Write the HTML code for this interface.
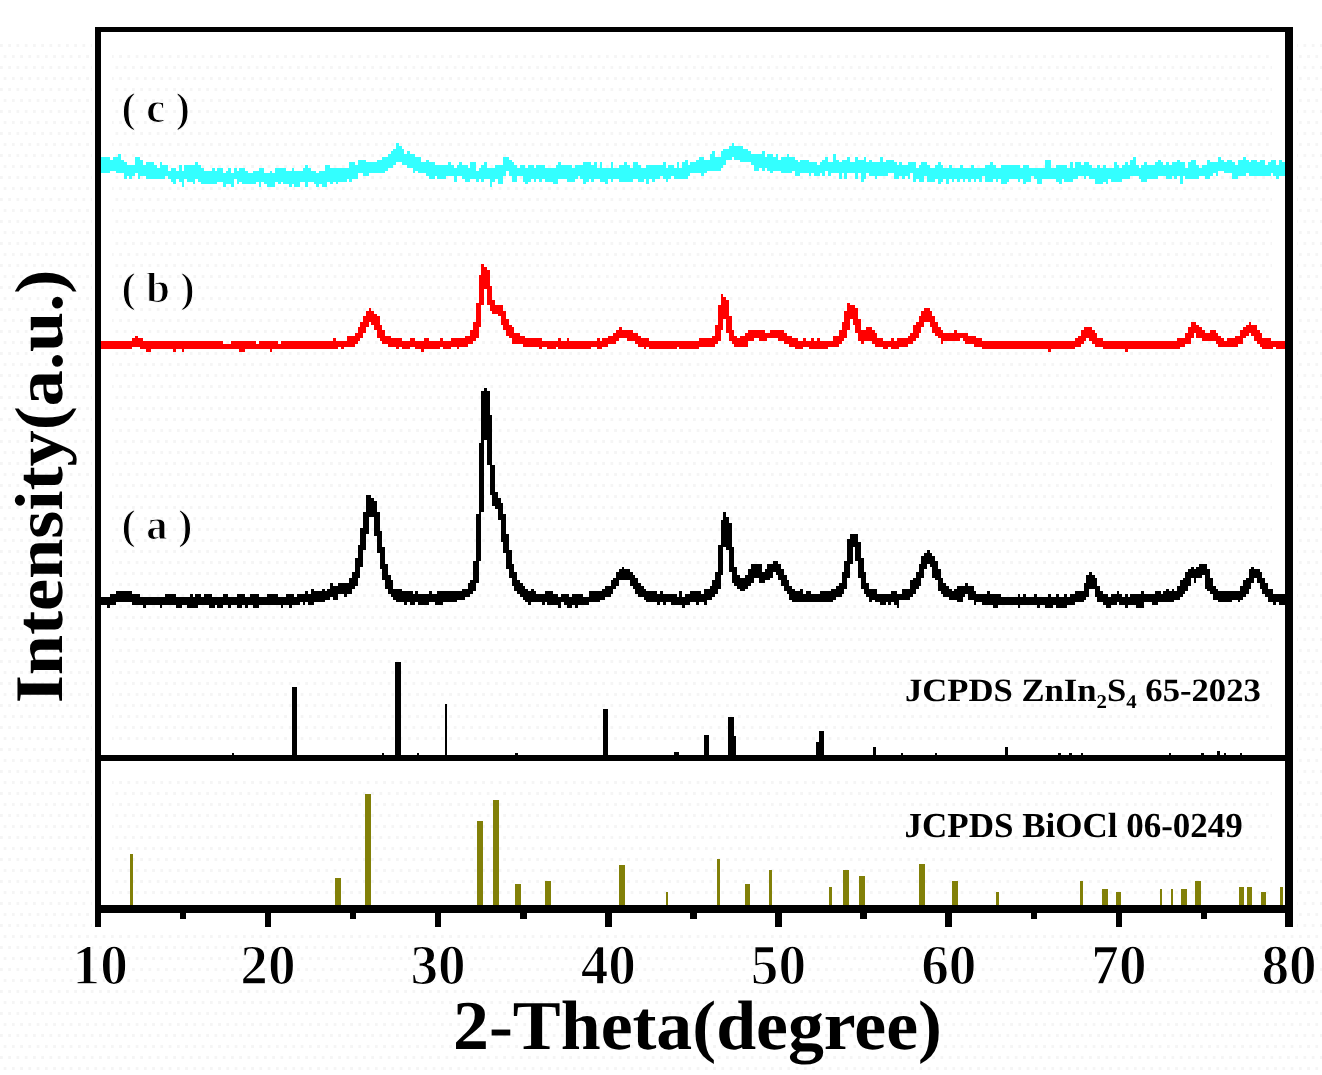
<!DOCTYPE html>
<html lang="en"><head><meta charset="utf-8"><title>XRD patterns</title>
<style>html,body{margin:0;padding:0;background:#fff}body{width:1322px;height:1075px;overflow:hidden}svg{display:block}</style></head>
<body>
<svg width="1322" height="1075" viewBox="0 0 1322 1075" shape-rendering="crispEdges">
<rect width="1322" height="1075" fill="#fff"/>
<defs><pattern id="dz" width="8.25" height="22" patternUnits="userSpaceOnUse"><rect x="0" y="0" width="2.75" height="2.75" fill="#f5f5f5"/><rect x="4.1" y="11" width="2.75" height="2.75" fill="#f5f5f5"/></pattern></defs>
<rect x="0" y="40" width="92" height="1035" fill="url(#dz)"/>
<rect x="112" y="50" width="1160" height="696" fill="url(#dz)"/>
<rect x="112" y="778" width="1160" height="118" fill="url(#dz)"/>
<rect x="92" y="930" width="1230" height="145" fill="url(#dz)"/>
<rect x="1297" y="40" width="25" height="890" fill="url(#dz)"/>
<path fill="#000" d="M231.50 752.50H234.20V756H231.50ZM291.60 687.00H297.20V756H291.60ZM381.50 752.50H384.20V756H381.50ZM395.20 662.30H400.80V756H395.20ZM416.70 752.50H419.40V756H416.70ZM444.50 703.60H447.20V756H444.50ZM515.30 752.50H518.00V756H515.30ZM602.80 708.90H608.30V756H602.80ZM673.90 752.00H679.30V756H673.90ZM704.00 734.60H709.40V756H704.00ZM728.00 717.00H733.60V756H728.00ZM733.60 736.00H736.40V756H733.60ZM816.00 741.70H818.80V756H816.00ZM818.80 731.00H824.20V756H818.80ZM873.00 747.00H875.70V756H873.00ZM900.50 752.50H903.20V756H900.50ZM934.50 753.00H937.20V756H934.50ZM1005.00 747.00H1007.80V756H1005.00ZM1058.20 753.00H1060.90V756H1058.20ZM1069.30 752.50H1072.00V756H1069.30ZM1080.50 753.00H1083.20V756H1080.50ZM1168.50 752.50H1171.20V756H1168.50ZM1201.00 752.50H1203.80V756H1201.00ZM1217.00 751.00H1219.80V756H1217.00ZM1223.50 753.00H1226.20V756H1223.50ZM1239.50 753.00H1242.20V756H1239.50Z"/>
<path fill="#828008" d="M130.30 853.70H133.10V906H130.30ZM335.00 878.00H340.60V906H335.00ZM365.00 794.00H370.70V906H365.00ZM477.00 821.00H482.70V906H477.00ZM493.30 799.50H498.90V906H493.30ZM515.00 883.80H520.60V906H515.00ZM545.00 881.00H550.70V906H545.00ZM619.00 864.60H624.50V906H619.00ZM665.50 892.00H668.20V906H665.50ZM717.30 859.30H720.00V906H717.30ZM744.60 883.80H750.20V906H744.60ZM769.00 870.00H771.70V906H769.00ZM829.30 886.60H832.00V906H829.30ZM843.00 870.00H848.50V906H843.00ZM859.00 875.50H864.60V906H859.00ZM919.00 864.30H924.80V906H919.00ZM952.00 881.00H957.50V906H952.00ZM996.00 892.00H998.70V906H996.00ZM1080.00 881.00H1082.70V906H1080.00ZM1102.40 889.00H1107.80V906H1102.40ZM1116.00 892.00H1121.40V906H1116.00ZM1159.50 889.00H1162.20V906H1159.50ZM1170.70 889.00H1173.40V906H1170.70ZM1181.00 889.00H1186.90V906H1181.00ZM1195.00 881.00H1200.80V906H1195.00ZM1239.00 886.60H1243.70V906H1239.00ZM1246.90 886.60H1251.70V906H1246.90ZM1260.50 892.00H1266.00V906H1260.50ZM1280.00 886.60H1282.80V906H1280.00Z"/>
<path fill="#33ffff" d="M100.50 156.75H101.75V173.25H100.50ZM101.75 156.75H104.50V173.25H101.75ZM104.50 156.75H107.25V173.25H104.50ZM107.25 156.75H110.00V173.25H107.25ZM110.00 159.50H112.75V170.50H110.00ZM112.75 156.75H115.50V170.50H112.75ZM115.50 156.75H118.25V173.25H115.50ZM118.25 154.00H121.00V173.25H118.25ZM121.00 159.50H123.75V173.25H121.00ZM123.75 162.25H126.50V178.75H123.75ZM126.50 165.00H129.25V176.00H126.50ZM129.25 165.00H132.00V178.75H129.25ZM132.00 165.00H134.75V176.00H132.00ZM134.75 156.75H137.50V173.25H134.75ZM137.50 156.75H140.25V178.75H137.50ZM140.25 159.50H143.00V176.00H140.25ZM143.00 165.00H145.75V176.00H143.00ZM145.75 162.25H148.50V178.75H145.75ZM148.50 162.25H151.25V178.75H148.50ZM151.25 162.25H154.00V178.75H151.25ZM154.00 165.00H156.75V178.75H154.00ZM156.75 167.75H159.50V178.75H156.75ZM159.50 162.25H162.25V178.75H159.50ZM162.25 165.00H165.00V178.75H162.25ZM165.00 165.00H167.75V176.00H165.00ZM167.75 170.50H170.50V178.75H167.75ZM170.50 167.75H173.25V181.50H170.50ZM173.25 167.75H176.00V184.25H173.25ZM176.00 170.50H178.75V178.75H176.00ZM178.75 165.00H181.50V181.50H178.75ZM181.50 170.50H184.25V187.00H181.50ZM184.25 165.00H187.00V178.75H184.25ZM187.00 165.00H189.75V181.50H187.00ZM189.75 165.00H192.50V181.50H189.75ZM192.50 165.00H195.25V184.25H192.50ZM195.25 162.25H198.00V178.75H195.25ZM198.00 165.00H200.75V181.50H198.00ZM200.75 167.75H203.50V184.25H200.75ZM203.50 170.50H206.25V184.25H203.50ZM206.25 170.50H209.00V184.25H206.25ZM209.00 170.50H211.75V184.25H209.00ZM211.75 167.75H214.50V184.25H211.75ZM214.50 170.50H217.25V184.25H214.50ZM217.25 167.75H220.00V181.50H217.25ZM220.00 167.75H222.75V181.50H220.00ZM222.75 173.25H225.50V187.00H222.75ZM225.50 170.50H228.25V184.25H225.50ZM228.25 167.75H231.00V184.25H228.25ZM231.00 173.25H233.75V187.00H231.00ZM233.75 167.75H236.50V178.75H233.75ZM236.50 170.50H239.25V184.25H236.50ZM239.25 167.75H242.00V181.50H239.25ZM242.00 167.75H244.75V184.25H242.00ZM244.75 170.50H247.50V184.25H244.75ZM247.50 173.25H250.25V184.25H247.50ZM250.25 173.25H253.00V184.25H250.25ZM253.00 170.50H255.75V184.25H253.00ZM255.75 170.50H258.50V181.50H255.75ZM258.50 167.75H261.25V187.00H258.50ZM261.25 167.75H264.00V181.50H261.25ZM264.00 173.25H266.75V184.25H264.00ZM266.75 173.25H269.50V187.00H266.75ZM269.50 170.50H272.25V187.00H269.50ZM272.25 173.25H275.00V187.00H272.25ZM275.00 167.75H277.75V181.50H275.00ZM277.75 167.75H280.50V184.25H277.75ZM280.50 167.75H283.25V181.50H280.50ZM283.25 167.75H286.00V184.25H283.25ZM286.00 170.50H288.75V184.25H286.00ZM288.75 170.50H291.50V187.00H288.75ZM291.50 167.75H294.25V184.25H291.50ZM294.25 170.50H297.00V187.00H294.25ZM297.00 170.50H299.75V187.00H297.00ZM299.75 170.50H302.50V181.50H299.75ZM302.50 167.75H305.25V181.50H302.50ZM305.25 165.00H308.00V187.00H305.25ZM308.00 167.75H310.75V181.50H308.00ZM310.75 170.50H313.50V181.50H310.75ZM313.50 170.50H316.25V184.25H313.50ZM316.25 173.25H319.00V187.00H316.25ZM319.00 170.50H321.75V184.25H319.00ZM321.75 170.50H324.50V187.00H321.75ZM324.50 165.00H327.25V187.00H324.50ZM327.25 165.00H330.00V181.50H327.25ZM330.00 167.75H332.75V184.25H330.00ZM332.75 167.75H335.50V181.50H332.75ZM335.50 167.75H338.25V184.25H335.50ZM338.25 167.75H341.00V181.50H338.25ZM341.00 167.75H343.75V181.50H341.00ZM343.75 167.75H346.50V181.50H343.75ZM346.50 167.75H349.25V178.75H346.50ZM349.25 162.25H352.00V181.50H349.25ZM352.00 162.25H354.75V178.75H352.00ZM354.75 165.00H357.50V178.75H354.75ZM357.50 159.50H360.25V173.25H357.50ZM360.25 159.50H363.00V173.25H360.25ZM363.00 159.50H365.75V176.00H363.00ZM365.75 162.25H368.50V176.00H365.75ZM368.50 162.25H371.25V173.25H368.50ZM371.25 162.25H374.00V173.25H371.25ZM374.00 162.25H376.75V173.25H374.00ZM376.75 159.50H379.50V173.25H376.75ZM379.50 159.50H382.25V173.25H379.50ZM382.25 156.75H385.00V173.25H382.25ZM385.00 156.75H387.75V170.50H385.00ZM387.75 154.00H390.50V167.75H387.75ZM390.50 151.25H393.25V167.75H390.50ZM393.25 148.50H396.00V165.00H393.25ZM396.00 143.00H398.75V162.25H396.00ZM398.75 145.75H401.50V162.25H398.75ZM401.50 148.50H404.25V165.00H401.50ZM404.25 154.00H407.00V165.00H404.25ZM407.00 151.25H409.75V167.75H407.00ZM409.75 154.00H412.50V167.75H409.75ZM412.50 154.00H415.25V173.25H412.50ZM415.25 156.75H418.00V170.50H415.25ZM418.00 156.75H420.75V173.25H418.00ZM420.75 162.25H423.50V173.25H420.75ZM423.50 162.25H426.25V173.25H423.50ZM426.25 159.50H429.00V176.00H426.25ZM429.00 162.25H431.75V178.75H429.00ZM431.75 162.25H434.50V178.75H431.75ZM434.50 165.00H437.25V176.00H434.50ZM437.25 165.00H440.00V178.75H437.25ZM440.00 165.00H442.75V178.75H440.00ZM442.75 165.00H445.50V178.75H442.75ZM445.50 165.00H448.25V176.00H445.50ZM448.25 162.25H451.00V176.00H448.25ZM451.00 165.00H453.75V176.00H451.00ZM453.75 167.75H456.50V181.50H453.75ZM456.50 165.00H459.25V176.00H456.50ZM459.25 162.25H462.00V176.00H459.25ZM462.00 165.00H464.75V178.75H462.00ZM464.75 165.00H467.50V181.50H464.75ZM467.50 167.75H470.25V181.50H467.50ZM470.25 162.25H473.00V178.75H470.25ZM473.00 162.25H475.75V178.75H473.00ZM475.75 170.50H478.50V181.50H475.75ZM478.50 167.75H481.25V178.75H478.50ZM481.25 165.00H484.00V181.50H481.25ZM484.00 162.25H486.75V178.75H484.00ZM486.75 167.75H489.50V178.75H486.75ZM489.50 167.75H492.25V187.00H489.50ZM492.25 167.75H495.00V181.50H492.25ZM495.00 165.00H497.75V178.75H495.00ZM497.75 165.00H500.50V184.25H497.75ZM500.50 165.00H503.25V184.25H500.50ZM503.25 156.75H506.00V176.00H503.25ZM506.00 156.75H508.75V170.50H506.00ZM508.75 159.50H511.50V176.00H508.75ZM511.50 162.25H514.25V181.50H511.50ZM514.25 165.00H517.00V181.50H514.25ZM517.00 167.75H519.75V176.00H517.00ZM519.75 165.00H522.50V176.00H519.75ZM522.50 165.00H525.25V181.50H522.50ZM525.25 167.75H528.00V184.25H525.25ZM528.00 165.00H530.75V181.50H528.00ZM530.75 165.00H533.50V178.75H530.75ZM533.50 167.75H536.25V181.50H533.50ZM536.25 165.00H539.00V178.75H536.25ZM539.00 165.00H541.75V181.50H539.00ZM541.75 165.00H544.50V178.75H541.75ZM544.50 167.75H547.25V181.50H544.50ZM547.25 167.75H550.00V181.50H547.25ZM550.00 167.75H552.75V181.50H550.00ZM552.75 167.75H555.50V184.25H552.75ZM555.50 165.00H558.25V184.25H555.50ZM558.25 162.25H561.00V178.75H558.25ZM561.00 165.00H563.75V178.75H561.00ZM563.75 165.00H566.50V178.75H563.75ZM566.50 165.00H569.25V181.50H566.50ZM569.25 165.00H572.00V181.50H569.25ZM572.00 167.75H574.75V181.50H572.00ZM574.75 165.00H577.50V178.75H574.75ZM577.50 165.00H580.25V176.00H577.50ZM580.25 165.00H583.00V178.75H580.25ZM583.00 162.25H585.75V184.25H583.00ZM585.75 162.25H588.50V181.50H585.75ZM588.50 162.25H591.25V178.75H588.50ZM591.25 165.00H594.00V181.50H591.25ZM594.00 162.25H596.75V178.75H594.00ZM596.75 167.75H599.50V178.75H596.75ZM599.50 162.25H602.25V181.50H599.50ZM602.25 167.75H605.00V181.50H602.25ZM605.00 167.75H607.75V184.25H605.00ZM607.75 167.75H610.50V178.75H607.75ZM610.50 162.25H613.25V181.50H610.50ZM613.25 167.75H616.00V178.75H613.25ZM616.00 167.75H618.75V178.75H616.00ZM618.75 165.00H621.50V181.50H618.75ZM621.50 165.00H624.25V181.50H621.50ZM624.25 162.25H627.00V181.50H624.25ZM627.00 165.00H629.75V181.50H627.00ZM629.75 167.75H632.50V181.50H629.75ZM632.50 162.25H635.25V178.75H632.50ZM635.25 162.25H638.00V178.75H635.25ZM638.00 165.00H640.75V181.50H638.00ZM640.75 167.75H643.50V181.50H640.75ZM643.50 167.75H646.25V178.75H643.50ZM646.25 165.00H649.00V184.25H646.25ZM649.00 165.00H651.75V178.75H649.00ZM651.75 165.00H654.50V181.50H651.75ZM654.50 165.00H657.25V178.75H654.50ZM657.25 165.00H660.00V178.75H657.25ZM660.00 165.00H662.75V176.00H660.00ZM662.75 162.25H665.50V178.75H662.75ZM665.50 167.75H668.25V181.50H665.50ZM668.25 165.00H671.00V178.75H668.25ZM671.00 165.00H673.75V176.00H671.00ZM673.75 167.75H676.50V178.75H673.75ZM676.50 162.25H679.25V178.75H676.50ZM679.25 167.75H682.00V178.75H679.25ZM682.00 162.25H684.75V178.75H682.00ZM684.75 159.50H687.50V178.75H684.75ZM687.50 165.00H690.25V176.00H687.50ZM690.25 162.25H693.00V173.25H690.25ZM693.00 162.25H695.75V173.25H693.00ZM695.75 159.50H698.50V173.25H695.75ZM698.50 156.75H701.25V173.25H698.50ZM701.25 156.75H704.00V176.00H701.25ZM704.00 159.50H706.75V173.25H704.00ZM706.75 159.50H709.50V170.50H706.75ZM709.50 154.00H712.25V170.50H709.50ZM712.25 151.25H715.00V170.50H712.25ZM715.00 156.75H717.75V170.50H715.00ZM717.75 156.75H720.50V170.50H717.75ZM720.50 151.25H723.25V167.75H720.50ZM723.25 148.50H726.00V165.00H723.25ZM726.00 148.50H728.75V159.50H726.00ZM728.75 145.75H731.50V159.50H728.75ZM731.50 143.00H734.25V156.75H731.50ZM734.25 145.75H737.00V159.50H734.25ZM737.00 145.75H739.75V159.50H737.00ZM739.75 145.75H742.50V162.25H739.75ZM742.50 148.50H745.25V162.25H742.50ZM745.25 148.50H748.00V162.25H745.25ZM748.00 151.25H750.75V162.25H748.00ZM750.75 154.00H753.50V165.00H750.75ZM753.50 154.00H756.25V170.50H753.50ZM756.25 154.00H759.00V170.50H756.25ZM759.00 154.00H761.75V167.75H759.00ZM761.75 151.25H764.50V170.50H761.75ZM764.50 156.75H767.25V167.75H764.50ZM767.25 154.00H770.00V170.50H767.25ZM770.00 154.00H772.75V173.25H770.00ZM772.75 156.75H775.50V170.50H772.75ZM775.50 154.00H778.25V170.50H775.50ZM778.25 159.50H781.00V170.50H778.25ZM781.00 156.75H783.75V173.25H781.00ZM783.75 156.75H786.50V173.25H783.75ZM786.50 154.00H789.25V173.25H786.50ZM789.25 156.75H792.00V173.25H789.25ZM792.00 156.75H794.75V170.50H792.00ZM794.75 159.50H797.50V176.00H794.75ZM797.50 162.25H800.25V176.00H797.50ZM800.25 159.50H803.00V173.25H800.25ZM803.00 159.50H805.75V173.25H803.00ZM805.75 159.50H808.50V173.25H805.75ZM808.50 162.25H811.25V176.00H808.50ZM811.25 162.25H814.00V173.25H811.25ZM814.00 162.25H816.75V176.00H814.00ZM816.75 165.00H819.50V176.00H816.75ZM819.50 162.25H822.25V173.25H819.50ZM822.25 159.50H825.00V176.00H822.25ZM825.00 156.75H827.75V170.50H825.00ZM827.75 162.25H830.50V176.00H827.75ZM830.50 162.25H833.25V173.25H830.50ZM833.25 154.00H836.00V173.25H833.25ZM836.00 159.50H838.75V173.25H836.00ZM838.75 162.25H841.50V178.75H838.75ZM841.50 159.50H844.25V173.25H841.50ZM844.25 159.50H847.00V178.75H844.25ZM847.00 156.75H849.75V173.25H847.00ZM849.75 162.25H852.50V173.25H849.75ZM852.50 162.25H855.25V173.25H852.50ZM855.25 156.75H858.00V178.75H855.25ZM858.00 159.50H860.75V173.25H858.00ZM860.75 159.50H863.50V181.50H860.75ZM863.50 156.75H866.25V178.75H863.50ZM866.25 162.25H869.00V173.25H866.25ZM869.00 159.50H871.75V176.00H869.00ZM871.75 162.25H874.50V176.00H871.75ZM874.50 162.25H877.25V178.75H874.50ZM877.25 162.25H880.00V176.00H877.25ZM880.00 156.75H882.75V176.00H880.00ZM882.75 162.25H885.50V176.00H882.75ZM885.50 159.50H888.25V176.00H885.50ZM888.25 159.50H891.00V173.25H888.25ZM891.00 159.50H893.75V173.25H891.00ZM893.75 162.25H896.50V178.75H893.75ZM896.50 165.00H899.25V178.75H896.50ZM899.25 162.25H902.00V176.00H899.25ZM902.00 165.00H904.75V178.75H902.00ZM904.75 165.00H907.50V176.00H904.75ZM907.50 162.25H910.25V178.75H907.50ZM910.25 162.25H913.00V173.25H910.25ZM913.00 162.25H915.75V181.50H913.00ZM915.75 167.75H918.50V178.75H915.75ZM918.50 165.00H921.25V181.50H918.50ZM921.25 162.25H924.00V181.50H921.25ZM924.00 162.25H926.75V176.00H924.00ZM926.75 165.00H929.50V181.50H926.75ZM929.50 167.75H932.25V181.50H929.50ZM932.25 167.75H935.00V181.50H932.25ZM935.00 165.00H937.75V178.75H935.00ZM937.75 162.25H940.50V184.25H937.75ZM940.50 165.00H943.25V181.50H940.50ZM943.25 167.75H946.00V178.75H943.25ZM946.00 167.75H948.75V184.25H946.00ZM948.75 165.00H951.50V178.75H948.75ZM951.50 167.75H954.25V181.50H951.50ZM954.25 167.75H957.00V178.75H954.25ZM957.00 167.75H959.75V181.50H957.00ZM959.75 165.00H962.50V178.75H959.75ZM962.50 167.75H965.25V181.50H962.50ZM965.25 167.75H968.00V178.75H965.25ZM968.00 167.75H970.75V181.50H968.00ZM970.75 165.00H973.50V178.75H970.75ZM973.50 167.75H976.25V181.50H973.50ZM976.25 167.75H979.00V178.75H976.25ZM979.00 167.75H981.75V181.50H979.00ZM981.75 167.75H984.50V176.00H981.75ZM984.50 165.00H987.25V181.50H984.50ZM987.25 165.00H990.00V181.50H987.25ZM990.00 162.25H992.75V181.50H990.00ZM992.75 165.00H995.50V178.75H992.75ZM995.50 167.75H998.25V181.50H995.50ZM998.25 167.75H1001.00V178.75H998.25ZM1001.00 165.00H1003.75V184.25H1001.00ZM1003.75 165.00H1006.50V184.25H1003.75ZM1006.50 165.00H1009.25V181.50H1006.50ZM1009.25 165.00H1012.00V178.75H1009.25ZM1012.00 165.00H1014.75V178.75H1012.00ZM1014.75 165.00H1017.50V178.75H1014.75ZM1017.50 165.00H1020.25V181.50H1017.50ZM1020.25 167.75H1023.00V178.75H1020.25ZM1023.00 165.00H1025.75V184.25H1023.00ZM1025.75 165.00H1028.50V181.50H1025.75ZM1028.50 167.75H1031.25V181.50H1028.50ZM1031.25 167.75H1034.00V176.00H1031.25ZM1034.00 167.75H1036.75V178.75H1034.00ZM1036.75 167.75H1039.50V184.25H1036.75ZM1039.50 167.75H1042.25V184.25H1039.50ZM1042.25 167.75H1045.00V178.75H1042.25ZM1045.00 159.50H1047.75V178.75H1045.00ZM1047.75 159.50H1050.50V178.75H1047.75ZM1050.50 167.75H1053.25V178.75H1050.50ZM1053.25 167.75H1056.00V178.75H1053.25ZM1056.00 165.00H1058.75V181.50H1056.00ZM1058.75 165.00H1061.50V184.25H1058.75ZM1061.50 165.00H1064.25V178.75H1061.50ZM1064.25 165.00H1067.00V181.50H1064.25ZM1067.00 167.75H1069.75V181.50H1067.00ZM1069.75 162.25H1072.50V181.50H1069.75ZM1072.50 167.75H1075.25V178.75H1072.50ZM1075.25 162.25H1078.00V178.75H1075.25ZM1078.00 162.25H1080.75V176.00H1078.00ZM1080.75 165.00H1083.50V176.00H1080.75ZM1083.50 162.25H1086.25V178.75H1083.50ZM1086.25 162.25H1089.00V176.00H1086.25ZM1089.00 165.00H1091.75V178.75H1089.00ZM1091.75 167.75H1094.50V178.75H1091.75ZM1094.50 167.75H1097.25V184.25H1094.50ZM1097.25 165.00H1100.00V184.25H1097.25ZM1100.00 167.75H1102.75V184.25H1100.00ZM1102.75 165.00H1105.50V181.50H1102.75ZM1105.50 167.75H1108.25V184.25H1105.50ZM1108.25 167.75H1111.00V178.75H1108.25ZM1111.00 167.75H1113.75V181.50H1111.00ZM1113.75 162.25H1116.50V181.50H1113.75ZM1116.50 165.00H1119.25V181.50H1116.50ZM1119.25 167.75H1122.00V181.50H1119.25ZM1122.00 165.00H1124.75V178.75H1122.00ZM1124.75 162.25H1127.50V178.75H1124.75ZM1127.50 165.00H1130.25V178.75H1127.50ZM1130.25 159.50H1133.00V176.00H1130.25ZM1133.00 156.75H1135.75V176.00H1133.00ZM1135.75 165.00H1138.50V176.00H1135.75ZM1138.50 167.75H1141.25V178.75H1138.50ZM1141.25 165.00H1144.00V181.50H1141.25ZM1144.00 162.25H1146.75V181.50H1144.00ZM1146.75 165.00H1149.50V178.75H1146.75ZM1149.50 165.00H1152.25V178.75H1149.50ZM1152.25 165.00H1155.00V178.75H1152.25ZM1155.00 162.25H1157.75V178.75H1155.00ZM1157.75 159.50H1160.50V176.00H1157.75ZM1160.50 162.25H1163.25V176.00H1160.50ZM1163.25 165.00H1166.00V176.00H1163.25ZM1166.00 162.25H1168.75V178.75H1166.00ZM1168.75 165.00H1171.50V178.75H1168.75ZM1171.50 162.25H1174.25V176.00H1171.50ZM1174.25 162.25H1177.00V178.75H1174.25ZM1177.00 159.50H1179.75V176.00H1177.00ZM1179.75 162.25H1182.50V184.25H1179.75ZM1182.50 162.25H1185.25V176.00H1182.50ZM1185.25 167.75H1188.00V178.75H1185.25ZM1188.00 162.25H1190.75V178.75H1188.00ZM1190.75 159.50H1193.50V178.75H1190.75ZM1193.50 159.50H1196.25V178.75H1193.50ZM1196.25 165.00H1199.00V178.75H1196.25ZM1199.00 167.75H1201.75V176.00H1199.00ZM1201.75 165.00H1204.50V176.00H1201.75ZM1204.50 165.00H1207.25V178.75H1204.50ZM1207.25 159.50H1210.00V178.75H1207.25ZM1210.00 162.25H1212.75V176.00H1210.00ZM1212.75 162.25H1215.50V173.25H1212.75ZM1215.50 162.25H1218.25V176.00H1215.50ZM1218.25 156.75H1221.00V170.50H1218.25ZM1221.00 159.50H1223.75V170.50H1221.00ZM1223.75 162.25H1226.50V173.25H1223.75ZM1226.50 159.50H1229.25V173.25H1226.50ZM1229.25 159.50H1232.00V173.25H1229.25ZM1232.00 162.25H1234.75V178.75H1232.00ZM1234.75 165.00H1237.50V178.75H1234.75ZM1237.50 159.50H1240.25V176.00H1237.50ZM1240.25 159.50H1243.00V176.00H1240.25ZM1243.00 156.75H1245.75V176.00H1243.00ZM1245.75 159.50H1248.50V173.25H1245.75ZM1248.50 162.25H1251.25V176.00H1248.50ZM1251.25 159.50H1254.00V176.00H1251.25ZM1254.00 159.50H1256.75V176.00H1254.00ZM1256.75 162.25H1259.50V176.00H1256.75ZM1259.50 159.50H1262.25V176.00H1259.50ZM1262.25 159.50H1265.00V176.00H1262.25ZM1265.00 165.00H1267.75V176.00H1265.00ZM1267.75 162.25H1270.50V176.00H1267.75ZM1270.50 159.50H1273.25V173.25H1270.50ZM1273.25 159.50H1276.00V176.00H1273.25ZM1276.00 165.00H1278.75V178.75H1276.00ZM1278.75 159.50H1281.50V176.00H1278.75ZM1281.50 162.25H1284.25V176.00H1281.50ZM1284.25 162.25H1285.40V176.00H1284.25Z"/>
<path fill="#ff0000" d="M100.50 341.00H101.75V349.25H100.50ZM101.75 341.00H104.50V349.25H101.75ZM104.50 341.00H107.25V349.25H104.50ZM107.25 341.00H110.00V349.25H107.25ZM110.00 341.00H112.75V349.25H110.00ZM112.75 341.00H115.50V349.25H112.75ZM115.50 341.00H118.25V349.25H115.50ZM118.25 341.00H121.00V349.25H118.25ZM121.00 341.00H123.75V349.25H121.00ZM123.75 341.00H126.50V349.25H123.75ZM126.50 341.00H129.25V349.25H126.50ZM129.25 341.00H132.00V349.25H129.25ZM132.00 338.25H134.75V346.50H132.00ZM134.75 335.50H137.50V346.50H134.75ZM137.50 338.25H140.25V346.50H137.50ZM140.25 338.25H143.00V349.25H140.25ZM143.00 341.00H145.75V349.25H143.00ZM145.75 341.00H148.50V352.00H145.75ZM148.50 341.00H151.25V352.00H148.50ZM151.25 341.00H154.00V349.25H151.25ZM154.00 341.00H156.75V349.25H154.00ZM156.75 341.00H159.50V349.25H156.75ZM159.50 341.00H162.25V349.25H159.50ZM162.25 341.00H165.00V349.25H162.25ZM165.00 341.00H167.75V349.25H165.00ZM167.75 341.00H170.50V349.25H167.75ZM170.50 341.00H173.25V349.25H170.50ZM173.25 341.00H176.00V352.00H173.25ZM176.00 341.00H178.75V349.25H176.00ZM178.75 341.00H181.50V349.25H178.75ZM181.50 341.00H184.25V352.00H181.50ZM184.25 341.00H187.00V349.25H184.25ZM187.00 341.00H189.75V349.25H187.00ZM189.75 341.00H192.50V349.25H189.75ZM192.50 341.00H195.25V349.25H192.50ZM195.25 341.00H198.00V349.25H195.25ZM198.00 341.00H200.75V349.25H198.00ZM200.75 341.00H203.50V349.25H200.75ZM203.50 341.00H206.25V349.25H203.50ZM206.25 341.00H209.00V349.25H206.25ZM209.00 341.00H211.75V349.25H209.00ZM211.75 341.00H214.50V349.25H211.75ZM214.50 341.00H217.25V349.25H214.50ZM217.25 341.00H220.00V349.25H217.25ZM220.00 341.00H222.75V349.25H220.00ZM222.75 343.75H225.50V349.25H222.75ZM225.50 343.75H228.25V349.25H225.50ZM228.25 343.75H231.00V349.25H228.25ZM231.00 341.00H233.75V349.25H231.00ZM233.75 341.00H236.50V349.25H233.75ZM236.50 341.00H239.25V349.25H236.50ZM239.25 341.00H242.00V352.00H239.25ZM242.00 341.00H244.75V352.00H242.00ZM244.75 341.00H247.50V349.25H244.75ZM247.50 341.00H250.25V349.25H247.50ZM250.25 341.00H253.00V349.25H250.25ZM253.00 341.00H255.75V349.25H253.00ZM255.75 343.75H258.50V349.25H255.75ZM258.50 341.00H261.25V349.25H258.50ZM261.25 341.00H264.00V349.25H261.25ZM264.00 341.00H266.75V349.25H264.00ZM266.75 341.00H269.50V349.25H266.75ZM269.50 341.00H272.25V352.00H269.50ZM272.25 341.00H275.00V349.25H272.25ZM275.00 341.00H277.75V349.25H275.00ZM277.75 343.75H280.50V349.25H277.75ZM280.50 341.00H283.25V349.25H280.50ZM283.25 341.00H286.00V349.25H283.25ZM286.00 341.00H288.75V349.25H286.00ZM288.75 341.00H291.50V349.25H288.75ZM291.50 341.00H294.25V349.25H291.50ZM294.25 341.00H297.00V349.25H294.25ZM297.00 341.00H299.75V349.25H297.00ZM299.75 341.00H302.50V349.25H299.75ZM302.50 341.00H305.25V349.25H302.50ZM305.25 341.00H308.00V349.25H305.25ZM308.00 341.00H310.75V349.25H308.00ZM310.75 341.00H313.50V349.25H310.75ZM313.50 341.00H316.25V349.25H313.50ZM316.25 341.00H319.00V349.25H316.25ZM319.00 341.00H321.75V349.25H319.00ZM321.75 341.00H324.50V349.25H321.75ZM324.50 341.00H327.25V349.25H324.50ZM327.25 341.00H330.00V349.25H327.25ZM330.00 341.00H332.75V349.25H330.00ZM332.75 338.25H335.50V349.25H332.75ZM335.50 341.00H338.25V349.25H335.50ZM338.25 341.00H341.00V346.50H338.25ZM341.00 341.00H343.75V349.25H341.00ZM343.75 341.00H346.50V346.50H343.75ZM346.50 335.50H349.25V346.50H346.50ZM349.25 335.50H352.00V346.50H349.25ZM352.00 335.50H354.75V346.50H352.00ZM354.75 332.75H357.50V343.75H354.75ZM357.50 327.25H360.25V341.00H357.50ZM360.25 321.75H363.00V338.25H360.25ZM363.00 316.25H365.75V332.75H363.00ZM365.75 310.75H368.50V327.25H365.75ZM368.50 308.00H371.25V321.75H368.50ZM371.25 310.75H374.00V324.50H371.25ZM374.00 313.50H376.75V330.00H374.00ZM376.75 316.25H379.50V338.25H376.75ZM379.50 324.50H382.25V341.00H379.50ZM382.25 330.00H385.00V343.75H382.25ZM385.00 335.50H387.75V343.75H385.00ZM387.75 335.50H390.50V346.50H387.75ZM390.50 338.25H393.25V346.50H390.50ZM393.25 338.25H396.00V346.50H393.25ZM396.00 338.25H398.75V349.25H396.00ZM398.75 338.25H401.50V346.50H398.75ZM401.50 341.00H404.25V349.25H401.50ZM404.25 341.00H407.00V349.25H404.25ZM407.00 341.00H409.75V349.25H407.00ZM409.75 338.25H412.50V346.50H409.75ZM412.50 338.25H415.25V346.50H412.50ZM415.25 341.00H418.00V349.25H415.25ZM418.00 341.00H420.75V349.25H418.00ZM420.75 341.00H423.50V352.00H420.75ZM423.50 338.25H426.25V349.25H423.50ZM426.25 338.25H429.00V349.25H426.25ZM429.00 341.00H431.75V349.25H429.00ZM431.75 341.00H434.50V349.25H431.75ZM434.50 341.00H437.25V349.25H434.50ZM437.25 341.00H440.00V349.25H437.25ZM440.00 338.25H442.75V346.50H440.00ZM442.75 341.00H445.50V349.25H442.75ZM445.50 341.00H448.25V349.25H445.50ZM448.25 341.00H451.00V349.25H448.25ZM451.00 338.25H453.75V346.50H451.00ZM453.75 338.25H456.50V346.50H453.75ZM456.50 338.25H459.25V349.25H456.50ZM459.25 338.25H462.00V346.50H459.25ZM462.00 338.25H464.75V346.50H462.00ZM464.75 335.50H467.50V346.50H464.75ZM467.50 335.50H470.25V343.75H467.50ZM470.25 330.00H473.00V343.75H470.25ZM473.00 321.75H475.75V341.00H473.00ZM475.75 302.50H478.50V338.25H475.75ZM478.50 275.00H481.25V327.25H478.50ZM481.25 264.00H484.00V305.25H481.25ZM484.00 266.75H486.75V288.75H484.00ZM486.75 269.50H489.50V305.25H486.75ZM489.50 286.00H492.25V310.75H489.50ZM492.25 299.75H495.00V313.50H492.25ZM495.00 305.25H497.75V313.50H495.00ZM497.75 305.25H500.50V316.25H497.75ZM500.50 305.25H503.25V324.50H500.50ZM503.25 310.75H506.00V330.00H503.25ZM506.00 319.00H508.75V335.50H506.00ZM508.75 324.50H511.50V338.25H508.75ZM511.50 327.25H514.25V343.75H511.50ZM514.25 332.75H517.00V343.75H514.25ZM517.00 332.75H519.75V343.75H517.00ZM519.75 335.50H522.50V343.75H519.75ZM522.50 335.50H525.25V346.50H522.50ZM525.25 338.25H528.00V346.50H525.25ZM528.00 338.25H530.75V346.50H528.00ZM530.75 338.25H533.50V346.50H530.75ZM533.50 338.25H536.25V346.50H533.50ZM536.25 338.25H539.00V346.50H536.25ZM539.00 338.25H541.75V349.25H539.00ZM541.75 341.00H544.50V346.50H541.75ZM544.50 341.00H547.25V346.50H544.50ZM547.25 341.00H550.00V349.25H547.25ZM550.00 341.00H552.75V349.25H550.00ZM552.75 341.00H555.50V349.25H552.75ZM555.50 341.00H558.25V346.50H555.50ZM558.25 338.25H561.00V349.25H558.25ZM561.00 341.00H563.75V349.25H561.00ZM563.75 341.00H566.50V349.25H563.75ZM566.50 338.25H569.25V349.25H566.50ZM569.25 341.00H572.00V349.25H569.25ZM572.00 341.00H574.75V349.25H572.00ZM574.75 341.00H577.50V349.25H574.75ZM577.50 341.00H580.25V349.25H577.50ZM580.25 341.00H583.00V349.25H580.25ZM583.00 341.00H585.75V349.25H583.00ZM585.75 341.00H588.50V349.25H585.75ZM588.50 341.00H591.25V349.25H588.50ZM591.25 341.00H594.00V346.50H591.25ZM594.00 341.00H596.75V346.50H594.00ZM596.75 338.25H599.50V349.25H596.75ZM599.50 341.00H602.25V349.25H599.50ZM602.25 338.25H605.00V346.50H602.25ZM605.00 338.25H607.75V346.50H605.00ZM607.75 335.50H610.50V343.75H607.75ZM610.50 335.50H613.25V343.75H610.50ZM613.25 332.75H616.00V343.75H613.25ZM616.00 330.00H618.75V341.00H616.00ZM618.75 327.25H621.50V338.25H618.75ZM621.50 330.00H624.25V338.25H621.50ZM624.25 330.00H627.00V338.25H624.25ZM627.00 330.00H629.75V341.00H627.00ZM629.75 330.00H632.50V341.00H629.75ZM632.50 332.75H635.25V341.00H632.50ZM635.25 332.75H638.00V343.75H635.25ZM638.00 335.50H640.75V346.50H638.00ZM640.75 338.25H643.50V346.50H640.75ZM643.50 338.25H646.25V349.25H643.50ZM646.25 338.25H649.00V346.50H646.25ZM649.00 341.00H651.75V349.25H649.00ZM651.75 341.00H654.50V349.25H651.75ZM654.50 341.00H657.25V349.25H654.50ZM657.25 341.00H660.00V349.25H657.25ZM660.00 341.00H662.75V349.25H660.00ZM662.75 341.00H665.50V349.25H662.75ZM665.50 341.00H668.25V349.25H665.50ZM668.25 341.00H671.00V349.25H668.25ZM671.00 341.00H673.75V349.25H671.00ZM673.75 341.00H676.50V349.25H673.75ZM676.50 341.00H679.25V346.50H676.50ZM679.25 341.00H682.00V349.25H679.25ZM682.00 341.00H684.75V349.25H682.00ZM684.75 341.00H687.50V349.25H684.75ZM687.50 341.00H690.25V349.25H687.50ZM690.25 341.00H693.00V349.25H690.25ZM693.00 341.00H695.75V349.25H693.00ZM695.75 341.00H698.50V349.25H695.75ZM698.50 338.25H701.25V346.50H698.50ZM701.25 338.25H704.00V346.50H701.25ZM704.00 338.25H706.75V346.50H704.00ZM706.75 338.25H709.50V346.50H706.75ZM709.50 338.25H712.25V346.50H709.50ZM712.25 335.50H715.00V346.50H712.25ZM715.00 324.50H717.75V343.75H715.00ZM717.75 305.25H720.50V341.00H717.75ZM720.50 294.25H723.25V330.00H720.50ZM723.25 297.00H726.00V319.00H723.25ZM726.00 299.75H728.75V332.75H726.00ZM728.75 316.25H731.50V341.00H728.75ZM731.50 330.00H734.25V343.75H731.50ZM734.25 335.50H737.00V346.50H734.25ZM737.00 338.25H739.75V346.50H737.00ZM739.75 335.50H742.50V346.50H739.75ZM742.50 335.50H745.25V346.50H742.50ZM745.25 332.75H748.00V346.50H745.25ZM748.00 330.00H750.75V341.00H748.00ZM750.75 330.00H753.50V341.00H750.75ZM753.50 330.00H756.25V338.25H753.50ZM756.25 330.00H759.00V338.25H756.25ZM759.00 330.00H761.75V341.00H759.00ZM761.75 330.00H764.50V341.00H761.75ZM764.50 332.75H767.25V341.00H764.50ZM767.25 332.75H770.00V338.25H767.25ZM770.00 330.00H772.75V338.25H770.00ZM772.75 330.00H775.50V338.25H772.75ZM775.50 330.00H778.25V338.25H775.50ZM778.25 330.00H781.00V341.00H778.25ZM781.00 330.00H783.75V341.00H781.00ZM783.75 332.75H786.50V343.75H783.75ZM786.50 335.50H789.25V343.75H786.50ZM789.25 335.50H792.00V346.50H789.25ZM792.00 338.25H794.75V346.50H792.00ZM794.75 338.25H797.50V349.25H794.75ZM797.50 341.00H800.25V349.25H797.50ZM800.25 341.00H803.00V349.25H800.25ZM803.00 338.25H805.75V346.50H803.00ZM805.75 341.00H808.50V346.50H805.75ZM808.50 341.00H811.25V349.25H808.50ZM811.25 338.25H814.00V349.25H811.25ZM814.00 341.00H816.75V349.25H814.00ZM816.75 338.25H819.50V349.25H816.75ZM819.50 341.00H822.25V349.25H819.50ZM822.25 341.00H825.00V349.25H822.25ZM825.00 341.00H827.75V349.25H825.00ZM827.75 341.00H830.50V346.50H827.75ZM830.50 341.00H833.25V346.50H830.50ZM833.25 335.50H836.00V346.50H833.25ZM836.00 335.50H838.75V346.50H836.00ZM838.75 330.00H841.50V343.75H838.75ZM841.50 321.75H844.25V341.00H841.50ZM844.25 310.75H847.00V338.25H844.25ZM847.00 302.50H849.75V330.00H847.00ZM849.75 305.25H852.50V319.00H849.75ZM852.50 305.25H855.25V324.50H852.50ZM855.25 308.00H858.00V332.75H855.25ZM858.00 319.00H860.75V341.00H858.00ZM860.75 330.00H863.50V343.75H860.75ZM863.50 330.00H866.25V341.00H863.50ZM866.25 327.25H869.00V341.00H866.25ZM869.00 327.25H871.75V341.00H869.00ZM871.75 330.00H874.50V343.75H871.75ZM874.50 332.75H877.25V346.50H874.50ZM877.25 338.25H880.00V346.50H877.25ZM880.00 338.25H882.75V346.50H880.00ZM882.75 341.00H885.50V349.25H882.75ZM885.50 341.00H888.25V349.25H885.50ZM888.25 341.00H891.00V346.50H888.25ZM891.00 338.25H893.75V349.25H891.00ZM893.75 341.00H896.50V349.25H893.75ZM896.50 338.25H899.25V349.25H896.50ZM899.25 338.25H902.00V346.50H899.25ZM902.00 338.25H904.75V346.50H902.00ZM904.75 338.25H907.50V346.50H904.75ZM907.50 335.50H910.25V343.75H907.50ZM910.25 332.75H913.00V343.75H910.25ZM913.00 324.50H915.75V341.00H913.00ZM915.75 321.75H918.50V338.25H915.75ZM918.50 316.25H921.25V332.75H918.50ZM921.25 310.75H924.00V327.25H921.25ZM924.00 308.00H926.75V321.75H924.00ZM926.75 308.00H929.50V321.75H926.75ZM929.50 310.75H932.25V327.25H929.50ZM932.25 316.25H935.00V332.75H932.25ZM935.00 321.75H937.75V335.50H935.00ZM937.75 327.25H940.50V338.25H937.75ZM940.50 330.00H943.25V343.75H940.50ZM943.25 332.75H946.00V341.00H943.25ZM946.00 332.75H948.75V341.00H946.00ZM948.75 332.75H951.50V341.00H948.75ZM951.50 332.75H954.25V341.00H951.50ZM954.25 330.00H957.00V341.00H954.25ZM957.00 332.75H959.75V341.00H957.00ZM959.75 332.75H962.50V338.25H959.75ZM962.50 332.75H965.25V341.00H962.50ZM965.25 332.75H968.00V343.75H965.25ZM968.00 335.50H970.75V343.75H968.00ZM970.75 335.50H973.50V343.75H970.75ZM973.50 335.50H976.25V346.50H973.50ZM976.25 338.25H979.00V346.50H976.25ZM979.00 338.25H981.75V346.50H979.00ZM981.75 341.00H984.50V349.25H981.75ZM984.50 341.00H987.25V349.25H984.50ZM987.25 341.00H990.00V349.25H987.25ZM990.00 341.00H992.75V349.25H990.00ZM992.75 341.00H995.50V349.25H992.75ZM995.50 341.00H998.25V349.25H995.50ZM998.25 341.00H1001.00V349.25H998.25ZM1001.00 341.00H1003.75V349.25H1001.00ZM1003.75 341.00H1006.50V349.25H1003.75ZM1006.50 341.00H1009.25V349.25H1006.50ZM1009.25 341.00H1012.00V349.25H1009.25ZM1012.00 341.00H1014.75V349.25H1012.00ZM1014.75 341.00H1017.50V349.25H1014.75ZM1017.50 341.00H1020.25V349.25H1017.50ZM1020.25 341.00H1023.00V349.25H1020.25ZM1023.00 341.00H1025.75V349.25H1023.00ZM1025.75 341.00H1028.50V349.25H1025.75ZM1028.50 341.00H1031.25V349.25H1028.50ZM1031.25 341.00H1034.00V349.25H1031.25ZM1034.00 341.00H1036.75V349.25H1034.00ZM1036.75 341.00H1039.50V349.25H1036.75ZM1039.50 341.00H1042.25V349.25H1039.50ZM1042.25 341.00H1045.00V349.25H1042.25ZM1045.00 341.00H1047.75V349.25H1045.00ZM1047.75 341.00H1050.50V352.00H1047.75ZM1050.50 341.00H1053.25V349.25H1050.50ZM1053.25 341.00H1056.00V349.25H1053.25ZM1056.00 341.00H1058.75V349.25H1056.00ZM1058.75 341.00H1061.50V349.25H1058.75ZM1061.50 341.00H1064.25V349.25H1061.50ZM1064.25 341.00H1067.00V349.25H1064.25ZM1067.00 341.00H1069.75V349.25H1067.00ZM1069.75 341.00H1072.50V349.25H1069.75ZM1072.50 341.00H1075.25V349.25H1072.50ZM1075.25 338.25H1078.00V346.50H1075.25ZM1078.00 335.50H1080.75V346.50H1078.00ZM1080.75 330.00H1083.50V343.75H1080.75ZM1083.50 327.25H1086.25V341.00H1083.50ZM1086.25 327.25H1089.00V338.25H1086.25ZM1089.00 327.25H1091.75V341.00H1089.00ZM1091.75 330.00H1094.50V343.75H1091.75ZM1094.50 332.75H1097.25V346.50H1094.50ZM1097.25 338.25H1100.00V346.50H1097.25ZM1100.00 338.25H1102.75V346.50H1100.00ZM1102.75 341.00H1105.50V349.25H1102.75ZM1105.50 341.00H1108.25V349.25H1105.50ZM1108.25 341.00H1111.00V349.25H1108.25ZM1111.00 341.00H1113.75V349.25H1111.00ZM1113.75 341.00H1116.50V349.25H1113.75ZM1116.50 341.00H1119.25V349.25H1116.50ZM1119.25 341.00H1122.00V349.25H1119.25ZM1122.00 341.00H1124.75V349.25H1122.00ZM1124.75 341.00H1127.50V352.00H1124.75ZM1127.50 341.00H1130.25V349.25H1127.50ZM1130.25 341.00H1133.00V349.25H1130.25ZM1133.00 341.00H1135.75V349.25H1133.00ZM1135.75 341.00H1138.50V349.25H1135.75ZM1138.50 341.00H1141.25V349.25H1138.50ZM1141.25 341.00H1144.00V349.25H1141.25ZM1144.00 341.00H1146.75V349.25H1144.00ZM1146.75 341.00H1149.50V349.25H1146.75ZM1149.50 341.00H1152.25V349.25H1149.50ZM1152.25 341.00H1155.00V349.25H1152.25ZM1155.00 341.00H1157.75V349.25H1155.00ZM1157.75 341.00H1160.50V349.25H1157.75ZM1160.50 341.00H1163.25V349.25H1160.50ZM1163.25 341.00H1166.00V349.25H1163.25ZM1166.00 341.00H1168.75V349.25H1166.00ZM1168.75 341.00H1171.50V349.25H1168.75ZM1171.50 341.00H1174.25V349.25H1171.50ZM1174.25 341.00H1177.00V349.25H1174.25ZM1177.00 338.25H1179.75V349.25H1177.00ZM1179.75 338.25H1182.50V346.50H1179.75ZM1182.50 338.25H1185.25V346.50H1182.50ZM1185.25 332.75H1188.00V343.75H1185.25ZM1188.00 327.25H1190.75V343.75H1188.00ZM1190.75 321.75H1193.50V338.25H1190.75ZM1193.50 321.75H1196.25V332.75H1193.50ZM1196.25 324.50H1199.00V338.25H1196.25ZM1199.00 327.25H1201.75V338.25H1199.00ZM1201.75 330.00H1204.50V341.00H1201.75ZM1204.50 332.75H1207.25V341.00H1204.50ZM1207.25 332.75H1210.00V341.00H1207.25ZM1210.00 330.00H1212.75V341.00H1210.00ZM1212.75 330.00H1215.50V341.00H1212.75ZM1215.50 332.75H1218.25V343.75H1215.50ZM1218.25 335.50H1221.00V346.50H1218.25ZM1221.00 338.25H1223.75V346.50H1221.00ZM1223.75 341.00H1226.50V346.50H1223.75ZM1226.50 338.25H1229.25V346.50H1226.50ZM1229.25 338.25H1232.00V346.50H1229.25ZM1232.00 338.25H1234.75V346.50H1232.00ZM1234.75 335.50H1237.50V346.50H1234.75ZM1237.50 335.50H1240.25V343.75H1237.50ZM1240.25 330.00H1243.00V343.75H1240.25ZM1243.00 327.25H1245.75V338.25H1243.00ZM1245.75 324.50H1248.50V335.50H1245.75ZM1248.50 321.75H1251.25V332.75H1248.50ZM1251.25 324.50H1254.00V335.50H1251.25ZM1254.00 324.50H1256.75V341.00H1254.00ZM1256.75 330.00H1259.50V343.75H1256.75ZM1259.50 332.75H1262.25V346.50H1259.50ZM1262.25 338.25H1265.00V349.25H1262.25ZM1265.00 338.25H1267.75V349.25H1265.00ZM1267.75 338.25H1270.50V349.25H1267.75ZM1270.50 341.00H1273.25V349.25H1270.50ZM1273.25 341.00H1276.00V346.50H1273.25ZM1276.00 341.00H1278.75V349.25H1276.00ZM1278.75 341.00H1281.50V349.25H1278.75ZM1281.50 341.00H1284.25V349.25H1281.50ZM1284.25 341.00H1285.40V349.25H1284.25Z"/>
<path fill="#000000" d="M100.50 596.75H101.75V605.00H100.50ZM101.75 596.75H104.50V605.00H101.75ZM104.50 596.75H107.25V605.00H104.50ZM107.25 596.75H110.00V607.75H107.25ZM110.00 594.00H112.75V605.00H110.00ZM112.75 594.00H115.50V605.00H112.75ZM115.50 591.25H118.25V602.25H115.50ZM118.25 591.25H121.00V602.25H118.25ZM121.00 591.25H123.75V602.25H121.00ZM123.75 591.25H126.50V602.25H123.75ZM126.50 591.25H129.25V602.25H126.50ZM129.25 591.25H132.00V602.25H129.25ZM132.00 594.00H134.75V605.00H132.00ZM134.75 594.00H137.50V605.00H134.75ZM137.50 594.00H140.25V605.00H137.50ZM140.25 596.75H143.00V605.00H140.25ZM143.00 596.75H145.75V607.75H143.00ZM145.75 596.75H148.50V605.00H145.75ZM148.50 596.75H151.25V605.00H148.50ZM151.25 596.75H154.00V605.00H151.25ZM154.00 596.75H156.75V605.00H154.00ZM156.75 596.75H159.50V605.00H156.75ZM159.50 596.75H162.25V607.75H159.50ZM162.25 596.75H165.00V605.00H162.25ZM165.00 594.00H167.75V605.00H165.00ZM167.75 594.00H170.50V605.00H167.75ZM170.50 594.00H173.25V605.00H170.50ZM173.25 594.00H176.00V605.00H173.25ZM176.00 596.75H178.75V607.75H176.00ZM178.75 596.75H181.50V607.75H178.75ZM181.50 596.75H184.25V605.00H181.50ZM184.25 596.75H187.00V605.00H184.25ZM187.00 596.75H189.75V607.75H187.00ZM189.75 594.00H192.50V607.75H189.75ZM192.50 596.75H195.25V607.75H192.50ZM195.25 594.00H198.00V607.75H195.25ZM198.00 594.00H200.75V605.00H198.00ZM200.75 596.75H203.50V605.00H200.75ZM203.50 594.00H206.25V605.00H203.50ZM206.25 594.00H209.00V605.00H206.25ZM209.00 594.00H211.75V607.75H209.00ZM211.75 596.75H214.50V607.75H211.75ZM214.50 596.75H217.25V605.00H214.50ZM217.25 596.75H220.00V607.75H217.25ZM220.00 596.75H222.75V607.75H220.00ZM222.75 594.00H225.50V605.00H222.75ZM225.50 594.00H228.25V605.00H225.50ZM228.25 596.75H231.00V607.75H228.25ZM231.00 596.75H233.75V605.00H231.00ZM233.75 596.75H236.50V605.00H233.75ZM236.50 594.00H239.25V607.75H236.50ZM239.25 594.00H242.00V607.75H239.25ZM242.00 594.00H244.75V605.00H242.00ZM244.75 596.75H247.50V607.75H244.75ZM247.50 596.75H250.25V605.00H247.50ZM250.25 594.00H253.00V605.00H250.25ZM253.00 594.00H255.75V607.75H253.00ZM255.75 594.00H258.50V607.75H255.75ZM258.50 596.75H261.25V605.00H258.50ZM261.25 596.75H264.00V605.00H261.25ZM264.00 596.75H266.75V605.00H264.00ZM266.75 594.00H269.50V605.00H266.75ZM269.50 594.00H272.25V605.00H269.50ZM272.25 594.00H275.00V605.00H272.25ZM275.00 594.00H277.75V605.00H275.00ZM277.75 596.75H280.50V605.00H277.75ZM280.50 596.75H283.25V607.75H280.50ZM283.25 596.75H286.00V605.00H283.25ZM286.00 594.00H288.75V605.00H286.00ZM288.75 594.00H291.50V607.75H288.75ZM291.50 594.00H294.25V605.00H291.50ZM294.25 596.75H297.00V605.00H294.25ZM297.00 594.00H299.75V605.00H297.00ZM299.75 594.00H302.50V602.25H299.75ZM302.50 594.00H305.25V605.00H302.50ZM305.25 591.25H308.00V602.25H305.25ZM308.00 594.00H310.75V605.00H308.00ZM310.75 588.50H313.50V605.00H310.75ZM313.50 591.25H316.25V602.25H313.50ZM316.25 591.25H319.00V602.25H316.25ZM319.00 591.25H321.75V602.25H319.00ZM321.75 588.50H324.50V602.25H321.75ZM324.50 591.25H327.25V599.50H324.50ZM327.25 588.50H330.00V599.50H327.25ZM330.00 583.00H332.75V596.75H330.00ZM332.75 585.75H335.50V599.50H332.75ZM335.50 585.75H338.25V599.50H335.50ZM338.25 583.00H341.00V594.00H338.25ZM341.00 583.00H343.75V594.00H341.00ZM343.75 583.00H346.50V596.75H343.75ZM346.50 583.00H349.25V594.00H346.50ZM349.25 577.50H352.00V594.00H349.25ZM352.00 572.00H354.75V588.50H352.00ZM354.75 558.25H357.50V585.75H354.75ZM357.50 544.50H360.25V577.50H357.50ZM360.25 528.00H363.00V566.50H360.25ZM363.00 511.50H365.75V550.00H363.00ZM365.75 495.00H368.50V533.50H365.75ZM368.50 495.00H371.25V517.00H368.50ZM371.25 497.75H374.00V517.00H371.25ZM374.00 500.50H376.75V536.25H374.00ZM376.75 511.50H379.50V552.75H376.75ZM379.50 530.75H382.25V569.25H379.50ZM382.25 547.25H385.00V580.25H382.25ZM385.00 563.75H387.75V588.50H385.00ZM387.75 574.75H390.50V594.00H387.75ZM390.50 580.25H393.25V596.75H390.50ZM393.25 588.50H396.00V599.50H393.25ZM396.00 588.50H398.75V602.25H396.00ZM398.75 588.50H401.50V602.25H398.75ZM401.50 591.25H404.25V602.25H401.50ZM404.25 591.25H407.00V605.00H404.25ZM407.00 591.25H409.75V602.25H407.00ZM409.75 591.25H412.50V605.00H409.75ZM412.50 594.00H415.25V605.00H412.50ZM415.25 591.25H418.00V602.25H415.25ZM418.00 594.00H420.75V605.00H418.00ZM420.75 594.00H423.50V605.00H420.75ZM423.50 594.00H426.25V605.00H423.50ZM426.25 594.00H429.00V605.00H426.25ZM429.00 591.25H431.75V602.25H429.00ZM431.75 594.00H434.50V602.25H431.75ZM434.50 594.00H437.25V605.00H434.50ZM437.25 591.25H440.00V605.00H437.25ZM440.00 591.25H442.75V605.00H440.00ZM442.75 591.25H445.50V602.25H442.75ZM445.50 591.25H448.25V602.25H445.50ZM448.25 591.25H451.00V602.25H448.25ZM451.00 591.25H453.75V602.25H451.00ZM453.75 591.25H456.50V602.25H453.75ZM456.50 591.25H459.25V599.50H456.50ZM459.25 591.25H462.00V599.50H459.25ZM462.00 588.50H464.75V599.50H462.00ZM464.75 588.50H467.50V596.75H464.75ZM467.50 583.00H470.25V596.75H467.50ZM470.25 580.25H473.00V594.00H470.25ZM473.00 561.00H475.75V591.25H473.00ZM475.75 514.25H478.50V583.00H475.75ZM478.50 442.75H481.25V561.00H478.50ZM481.25 390.50H484.00V511.50H481.25ZM484.00 387.75H486.75V440.00H484.00ZM486.75 390.50H489.50V464.75H486.75ZM489.50 415.25H492.25V495.00H489.50ZM492.25 464.75H495.00V506.00H492.25ZM495.00 492.25H497.75V508.75H495.00ZM497.75 497.75H500.50V519.75H497.75ZM500.50 503.25H503.25V541.75H500.50ZM503.25 514.25H506.00V552.75H503.25ZM506.00 533.50H508.75V569.25H506.00ZM508.75 550.00H511.50V577.50H508.75ZM511.50 563.75H514.25V585.75H511.50ZM514.25 572.00H517.00V591.25H514.25ZM517.00 580.25H519.75V594.00H517.00ZM519.75 583.00H522.50V596.75H519.75ZM522.50 585.75H525.25V599.50H522.50ZM525.25 588.50H528.00V602.25H525.25ZM528.00 591.25H530.75V605.00H528.00ZM530.75 588.50H533.50V602.25H530.75ZM533.50 591.25H536.25V602.25H533.50ZM536.25 594.00H539.00V602.25H536.25ZM539.00 594.00H541.75V602.25H539.00ZM541.75 594.00H544.50V605.00H541.75ZM544.50 591.25H547.25V602.25H544.50ZM547.25 591.25H550.00V605.00H547.25ZM550.00 591.25H552.75V605.00H550.00ZM552.75 594.00H555.50V605.00H552.75ZM555.50 594.00H558.25V605.00H555.50ZM558.25 596.75H561.00V607.75H558.25ZM561.00 594.00H563.75V602.25H561.00ZM563.75 594.00H566.50V605.00H563.75ZM566.50 594.00H569.25V607.75H566.50ZM569.25 596.75H572.00V607.75H569.25ZM572.00 594.00H574.75V605.00H572.00ZM574.75 594.00H577.50V607.75H574.75ZM577.50 594.00H580.25V605.00H577.50ZM580.25 594.00H583.00V605.00H580.25ZM583.00 596.75H585.75V605.00H583.00ZM585.75 596.75H588.50V605.00H585.75ZM588.50 591.25H591.25V602.25H588.50ZM591.25 591.25H594.00V602.25H591.25ZM594.00 591.25H596.75V602.25H594.00ZM596.75 591.25H599.50V602.25H596.75ZM599.50 591.25H602.25V599.50H599.50ZM602.25 588.50H605.00V599.50H602.25ZM605.00 585.75H607.75V596.75H605.00ZM607.75 585.75H610.50V596.75H607.75ZM610.50 580.25H613.25V594.00H610.50ZM613.25 577.50H616.00V588.50H613.25ZM616.00 572.00H618.75V585.75H616.00ZM618.75 569.25H621.50V580.25H618.75ZM621.50 566.50H624.25V580.25H621.50ZM624.25 569.25H627.00V580.25H624.25ZM627.00 569.25H629.75V580.25H627.00ZM629.75 572.00H632.50V585.75H629.75ZM632.50 574.75H635.25V588.50H632.50ZM635.25 577.50H638.00V594.00H635.25ZM638.00 583.00H640.75V596.75H638.00ZM640.75 585.75H643.50V596.75H640.75ZM643.50 588.50H646.25V599.50H643.50ZM646.25 591.25H649.00V602.25H646.25ZM649.00 591.25H651.75V602.25H649.00ZM651.75 591.25H654.50V602.25H651.75ZM654.50 591.25H657.25V602.25H654.50ZM657.25 594.00H660.00V605.00H657.25ZM660.00 591.25H662.75V602.25H660.00ZM662.75 594.00H665.50V605.00H662.75ZM665.50 594.00H668.25V602.25H665.50ZM668.25 594.00H671.00V602.25H668.25ZM671.00 594.00H673.75V605.00H671.00ZM673.75 594.00H676.50V605.00H673.75ZM676.50 596.75H679.25V605.00H676.50ZM679.25 591.25H682.00V605.00H679.25ZM682.00 596.75H684.75V607.75H682.00ZM684.75 594.00H687.50V605.00H684.75ZM687.50 594.00H690.25V605.00H687.50ZM690.25 591.25H693.00V602.25H690.25ZM693.00 591.25H695.75V602.25H693.00ZM695.75 591.25H698.50V605.00H695.75ZM698.50 591.25H701.25V602.25H698.50ZM701.25 594.00H704.00V602.25H701.25ZM704.00 588.50H706.75V605.00H704.00ZM706.75 588.50H709.50V599.50H706.75ZM709.50 585.75H712.25V599.50H709.50ZM712.25 580.25H715.00V596.75H712.25ZM715.00 572.00H717.75V594.00H715.00ZM717.75 544.50H720.50V588.50H717.75ZM720.50 519.75H723.25V574.75H720.50ZM723.25 511.50H726.00V547.25H723.25ZM726.00 517.00H728.75V550.00H726.00ZM728.75 522.50H731.50V572.00H728.75ZM731.50 547.25H734.25V583.00H731.50ZM734.25 566.50H737.00V585.75H734.25ZM737.00 574.75H739.75V588.50H737.00ZM739.75 577.50H742.50V591.25H739.75ZM742.50 577.50H745.25V591.25H742.50ZM745.25 574.75H748.00V588.50H745.25ZM748.00 569.25H750.75V585.75H748.00ZM750.75 563.75H753.50V583.00H750.75ZM753.50 563.75H756.25V577.50H753.50ZM756.25 563.75H759.00V577.50H756.25ZM759.00 563.75H761.75V583.00H759.00ZM761.75 572.00H764.50V583.00H761.75ZM764.50 569.25H767.25V580.25H764.50ZM767.25 563.75H770.00V580.25H767.25ZM770.00 563.75H772.75V577.50H770.00ZM772.75 561.00H775.50V572.00H772.75ZM775.50 561.00H778.25V574.75H775.50ZM778.25 563.75H781.00V580.25H778.25ZM781.00 569.25H783.75V585.75H781.00ZM783.75 574.75H786.50V591.25H783.75ZM786.50 580.25H789.25V594.00H786.50ZM789.25 585.75H792.00V599.50H789.25ZM792.00 588.50H794.75V602.25H792.00ZM794.75 591.25H797.50V602.25H794.75ZM797.50 591.25H800.25V602.25H797.50ZM800.25 588.50H803.00V602.25H800.25ZM803.00 594.00H805.75V602.25H803.00ZM805.75 591.25H808.50V602.25H805.75ZM808.50 591.25H811.25V602.25H808.50ZM811.25 594.00H814.00V602.25H811.25ZM814.00 594.00H816.75V602.25H814.00ZM816.75 594.00H819.50V602.25H816.75ZM819.50 591.25H822.25V602.25H819.50ZM822.25 591.25H825.00V602.25H822.25ZM825.00 591.25H827.75V602.25H825.00ZM827.75 591.25H830.50V602.25H827.75ZM830.50 588.50H833.25V602.25H830.50ZM833.25 588.50H836.00V599.50H833.25ZM836.00 585.75H838.75V596.75H836.00ZM838.75 583.00H841.50V596.75H838.75ZM841.50 572.00H844.25V594.00H841.50ZM844.25 561.00H847.00V588.50H844.25ZM847.00 539.00H849.75V577.50H847.00ZM849.75 533.50H852.50V563.75H849.75ZM852.50 533.50H855.25V547.25H852.50ZM855.25 533.50H858.00V561.00H855.25ZM858.00 541.75H860.75V577.50H858.00ZM860.75 558.25H863.50V588.50H860.75ZM863.50 572.00H866.25V594.00H863.50ZM866.25 583.00H869.00V596.75H866.25ZM869.00 588.50H871.75V602.25H869.00ZM871.75 588.50H874.50V599.50H871.75ZM874.50 588.50H877.25V602.25H874.50ZM877.25 594.00H880.00V602.25H877.25ZM880.00 594.00H882.75V605.00H880.00ZM882.75 594.00H885.50V605.00H882.75ZM885.50 594.00H888.25V602.25H885.50ZM888.25 594.00H891.00V605.00H888.25ZM891.00 591.25H893.75V602.25H891.00ZM893.75 591.25H896.50V605.00H893.75ZM896.50 594.00H899.25V607.75H896.50ZM899.25 594.00H902.00V599.50H899.25ZM902.00 588.50H904.75V599.50H902.00ZM904.75 588.50H907.50V599.50H904.75ZM907.50 588.50H910.25V599.50H907.50ZM910.25 580.25H913.00V596.75H910.25ZM913.00 577.50H915.75V594.00H913.00ZM915.75 572.00H918.50V588.50H915.75ZM918.50 563.75H921.25V585.75H918.50ZM921.25 555.50H924.00V577.50H921.25ZM924.00 552.75H926.75V569.25H924.00ZM926.75 550.00H929.50V563.75H926.75ZM929.50 552.75H932.25V566.50H929.50ZM932.25 555.50H935.00V577.50H932.25ZM935.00 561.00H937.75V580.25H935.00ZM937.75 569.25H940.50V591.25H937.75ZM940.50 577.50H943.25V594.00H940.50ZM943.25 583.00H946.00V596.75H943.25ZM946.00 585.75H948.75V596.75H946.00ZM948.75 588.50H951.50V599.50H948.75ZM951.50 591.25H954.25V599.50H951.50ZM954.25 588.50H957.00V599.50H954.25ZM957.00 585.75H959.75V602.25H957.00ZM959.75 585.75H962.50V602.25H959.75ZM962.50 585.75H965.25V596.75H962.50ZM965.25 583.00H968.00V594.00H965.25ZM968.00 585.75H970.75V599.50H968.00ZM970.75 585.75H973.50V599.50H970.75ZM973.50 591.25H976.25V605.00H973.50ZM976.25 594.00H979.00V602.25H976.25ZM979.00 594.00H981.75V602.25H979.00ZM981.75 594.00H984.50V605.00H981.75ZM984.50 594.00H987.25V605.00H984.50ZM987.25 591.25H990.00V605.00H987.25ZM990.00 594.00H992.75V605.00H990.00ZM992.75 594.00H995.50V607.75H992.75ZM995.50 594.00H998.25V607.75H995.50ZM998.25 594.00H1001.00V605.00H998.25ZM1001.00 596.75H1003.75V605.00H1001.00ZM1003.75 596.75H1006.50V605.00H1003.75ZM1006.50 596.75H1009.25V605.00H1006.50ZM1009.25 596.75H1012.00V605.00H1009.25ZM1012.00 596.75H1014.75V605.00H1012.00ZM1014.75 596.75H1017.50V605.00H1014.75ZM1017.50 594.00H1020.25V607.75H1017.50ZM1020.25 596.75H1023.00V605.00H1020.25ZM1023.00 594.00H1025.75V605.00H1023.00ZM1025.75 596.75H1028.50V605.00H1025.75ZM1028.50 596.75H1031.25V605.00H1028.50ZM1031.25 596.75H1034.00V605.00H1031.25ZM1034.00 594.00H1036.75V605.00H1034.00ZM1036.75 596.75H1039.50V607.75H1036.75ZM1039.50 596.75H1042.25V605.00H1039.50ZM1042.25 596.75H1045.00V605.00H1042.25ZM1045.00 596.75H1047.75V607.75H1045.00ZM1047.75 594.00H1050.50V607.75H1047.75ZM1050.50 596.75H1053.25V607.75H1050.50ZM1053.25 596.75H1056.00V605.00H1053.25ZM1056.00 594.00H1058.75V607.75H1056.00ZM1058.75 596.75H1061.50V607.75H1058.75ZM1061.50 596.75H1064.25V607.75H1061.50ZM1064.25 594.00H1067.00V607.75H1064.25ZM1067.00 596.75H1069.75V605.00H1067.00ZM1069.75 594.00H1072.50V605.00H1069.75ZM1072.50 594.00H1075.25V605.00H1072.50ZM1075.25 591.25H1078.00V602.25H1075.25ZM1078.00 591.25H1080.75V602.25H1078.00ZM1080.75 591.25H1083.50V602.25H1080.75ZM1083.50 583.00H1086.25V599.50H1083.50ZM1086.25 574.75H1089.00V596.75H1086.25ZM1089.00 572.00H1091.75V588.50H1089.00ZM1091.75 574.75H1094.50V588.50H1091.75ZM1094.50 577.50H1097.25V596.75H1094.50ZM1097.25 585.75H1100.00V602.25H1097.25ZM1100.00 591.25H1102.75V602.25H1100.00ZM1102.75 594.00H1105.50V605.00H1102.75ZM1105.50 594.00H1108.25V607.75H1105.50ZM1108.25 596.75H1111.00V607.75H1108.25ZM1111.00 594.00H1113.75V605.00H1111.00ZM1113.75 594.00H1116.50V605.00H1113.75ZM1116.50 591.25H1119.25V602.25H1116.50ZM1119.25 594.00H1122.00V605.00H1119.25ZM1122.00 596.75H1124.75V605.00H1122.00ZM1124.75 594.00H1127.50V607.75H1124.75ZM1127.50 596.75H1130.25V605.00H1127.50ZM1130.25 594.00H1133.00V605.00H1130.25ZM1133.00 594.00H1135.75V605.00H1133.00ZM1135.75 594.00H1138.50V607.75H1135.75ZM1138.50 594.00H1141.25V607.75H1138.50ZM1141.25 591.25H1144.00V607.75H1141.25ZM1144.00 594.00H1146.75V602.25H1144.00ZM1146.75 594.00H1149.50V602.25H1146.75ZM1149.50 594.00H1152.25V602.25H1149.50ZM1152.25 594.00H1155.00V605.00H1152.25ZM1155.00 591.25H1157.75V605.00H1155.00ZM1157.75 591.25H1160.50V602.25H1157.75ZM1160.50 594.00H1163.25V602.25H1160.50ZM1163.25 591.25H1166.00V602.25H1163.25ZM1166.00 588.50H1168.75V602.25H1166.00ZM1168.75 591.25H1171.50V602.25H1168.75ZM1171.50 588.50H1174.25V602.25H1171.50ZM1174.25 591.25H1177.00V599.50H1174.25ZM1177.00 585.75H1179.75V599.50H1177.00ZM1179.75 580.25H1182.50V596.75H1179.75ZM1182.50 577.50H1185.25V594.00H1182.50ZM1185.25 572.00H1188.00V591.25H1185.25ZM1188.00 569.25H1190.75V585.75H1188.00ZM1190.75 566.50H1193.50V577.50H1190.75ZM1193.50 569.25H1196.25V583.00H1193.50ZM1196.25 566.50H1199.00V577.50H1196.25ZM1199.00 563.75H1201.75V577.50H1199.00ZM1201.75 563.75H1204.50V574.75H1201.75ZM1204.50 563.75H1207.25V588.50H1204.50ZM1207.25 569.25H1210.00V591.25H1207.25ZM1210.00 577.50H1212.75V594.00H1210.00ZM1212.75 585.75H1215.50V599.50H1212.75ZM1215.50 588.50H1218.25V599.50H1215.50ZM1218.25 591.25H1221.00V602.25H1218.25ZM1221.00 591.25H1223.75V602.25H1221.00ZM1223.75 591.25H1226.50V602.25H1223.75ZM1226.50 591.25H1229.25V602.25H1226.50ZM1229.25 591.25H1232.00V602.25H1229.25ZM1232.00 591.25H1234.75V599.50H1232.00ZM1234.75 591.25H1237.50V599.50H1234.75ZM1237.50 591.25H1240.25V602.25H1237.50ZM1240.25 585.75H1243.00V599.50H1240.25ZM1243.00 580.25H1245.75V596.75H1243.00ZM1245.75 577.50H1248.50V594.00H1245.75ZM1248.50 569.25H1251.25V588.50H1248.50ZM1251.25 566.50H1254.00V583.00H1251.25ZM1254.00 569.25H1256.75V577.50H1254.00ZM1256.75 569.25H1259.50V583.00H1256.75ZM1259.50 572.00H1262.25V588.50H1259.50ZM1262.25 577.50H1265.00V594.00H1262.25ZM1265.00 583.00H1267.75V596.75H1265.00ZM1267.75 588.50H1270.50V602.25H1267.75ZM1270.50 588.50H1273.25V602.25H1270.50ZM1273.25 594.00H1276.00V605.00H1273.25ZM1276.00 594.00H1278.75V602.25H1276.00ZM1278.75 594.00H1281.50V605.00H1278.75ZM1281.50 594.00H1284.25V605.00H1281.50ZM1284.25 594.00H1285.40V605.00H1284.25Z"/>
<g fill="#000">
<rect x="95" y="26.6" width="5.5" height="900.4"/>
<rect x="1285.4" y="26.6" width="7.9" height="900.4"/>
<rect x="95" y="26.6" width="1198.3" height="5.5"/>
<rect x="95" y="905.4" width="1198.3" height="8"/>
<rect x="95" y="755.2" width="1198.3" height="5.6"/>
<rect x="179.55" y="913" width="6.6" height="6"/>
<rect x="264.65" y="913" width="6.6" height="14"/>
<rect x="349.75" y="913" width="6.6" height="6"/>
<rect x="434.85" y="913" width="6.6" height="14"/>
<rect x="519.95" y="913" width="6.6" height="6"/>
<rect x="605.05" y="913" width="6.6" height="14"/>
<rect x="690.15" y="913" width="6.6" height="6"/>
<rect x="775.25" y="913" width="6.6" height="14"/>
<rect x="860.35" y="913" width="6.6" height="6"/>
<rect x="945.45" y="913" width="6.6" height="14"/>
<rect x="1030.55" y="913" width="6.6" height="6"/>
<rect x="1115.65" y="913" width="6.6" height="14"/>
<rect x="1200.75" y="913" width="6.6" height="6"/>
</g>
<g font-family="'Liberation Serif', 'Times New Roman', serif" font-weight="bold" fill="#000" text-rendering="geometricPrecision" shape-rendering="auto">
<text transform="translate(100.2 984) scale(0.97 1)" font-size="57" text-anchor="middle" stroke="#fff" stroke-width="1.3">10</text>
<text transform="translate(267.9 984) scale(0.97 1)" font-size="57" text-anchor="middle" stroke="#fff" stroke-width="1.3">20</text>
<text transform="translate(438.1 984) scale(0.97 1)" font-size="57" text-anchor="middle" stroke="#fff" stroke-width="1.3">30</text>
<text transform="translate(608.3 984) scale(0.97 1)" font-size="57" text-anchor="middle" stroke="#fff" stroke-width="1.3">40</text>
<text transform="translate(778.5 984) scale(0.97 1)" font-size="57" text-anchor="middle" stroke="#fff" stroke-width="1.3">50</text>
<text transform="translate(948.8 984) scale(0.97 1)" font-size="57" text-anchor="middle" stroke="#fff" stroke-width="1.3">60</text>
<text transform="translate(1118.9 984) scale(0.97 1)" font-size="57" text-anchor="middle" stroke="#fff" stroke-width="1.3">70</text>
<text transform="translate(1289.1 984) scale(0.97 1)" font-size="57" text-anchor="middle" stroke="#fff" stroke-width="1.3">80</text>
<text transform="translate(697.5 1048.6) scale(1.025 1)" font-size="70" text-anchor="middle">2-Theta(degree)</text>
<text transform="translate(61.6 486.5) rotate(-90) scale(1.063 1)" font-size="68" text-anchor="middle">Intensity(a.u.)</text>
<text x="121.5" y="121.5" font-size="42.5" stroke="#fff" stroke-width="1" xml:space="preserve" style="white-space:pre">( c )</text>
<text x="121.5" y="301.5" font-size="42.5" stroke="#fff" stroke-width="1" xml:space="preserve" style="white-space:pre">( b )</text>
<text x="121.5" y="538.5" font-size="42.5" stroke="#fff" stroke-width="1" xml:space="preserve" style="white-space:pre">( a )</text>
<text transform="translate(905 701) scale(0.99 0.93)" font-size="35">JCPDS ZnIn<tspan font-size="21" dy="8">2</tspan><tspan dy="-8">S</tspan><tspan font-size="21" dy="8">4</tspan><tspan dy="-8"> 65-2023</tspan></text>
<text x="904.5" y="836.7" font-size="35">JCPDS BiOCl 06-0249</text>
</g>
</svg>
</body></html>
